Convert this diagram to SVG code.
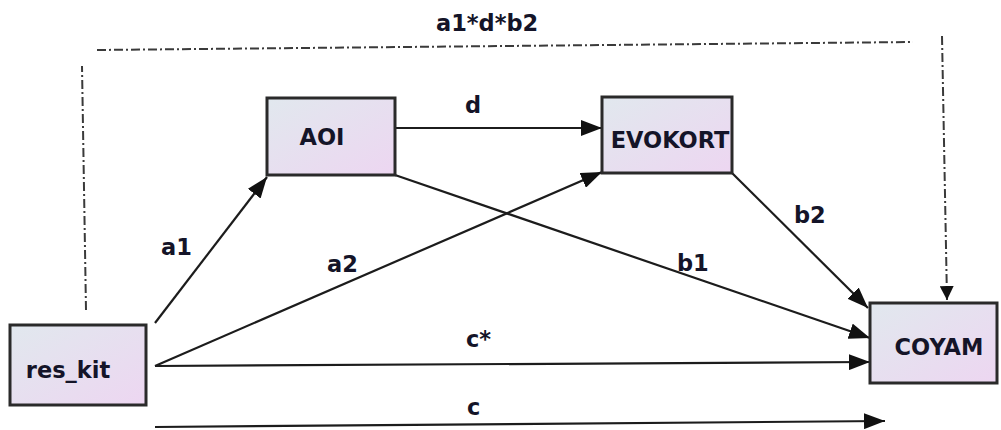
<svg xmlns="http://www.w3.org/2000/svg" width="1001" height="430" viewBox="0 0 1001 430">
  <defs>
    <linearGradient id="boxFill" x1="0" y1="0" x2="1" y2="1">
      <stop offset="0" stop-color="#e1e8ee"/>
      <stop offset="1" stop-color="#edd6f1"/>
    </linearGradient>
    <marker id="arrow" markerUnits="userSpaceOnUse" markerWidth="22" markerHeight="16" refX="21" refY="8" orient="auto">
      <path d="M0,0 L21,8 L0,16 Z" fill="#111"/>
    </marker>
    <marker id="arrowSmall" markerUnits="userSpaceOnUse" markerWidth="16" markerHeight="14" refX="14" refY="7" orient="auto">
      <path d="M0,0 L14,7 L0,14 Z" fill="#111"/>
    </marker>
    <style>
      .box { fill: url(#boxFill); stroke: #2a2a2a; stroke-width: 3; }
      .node-label { font-family: "DejaVu Sans", Verdana, sans-serif; font-weight: bold; font-size: 22.5px; fill: #141428; text-anchor: middle; }
      .edge-label { font-family: "DejaVu Sans", Verdana, sans-serif; font-weight: bold; font-size: 22.5px; fill: #141428; }
      .edge { fill: none; stroke: #1c1c1c; stroke-width: 2.2; marker-end: url(#arrow); }
      .indirect { fill: none; stroke: #3a3a3a; stroke-width: 2; stroke-dasharray: 9 3 2 3; }
    </style>
  </defs>

  <!-- connectors -->
  <g id="connectors">
    <line class="edge" x1="155" y1="323" x2="267" y2="177"/>
    <line class="edge" x1="155" y1="366" x2="602" y2="172"/>
    <line class="edge" x1="155" y1="366" x2="870" y2="362"/>
    <line class="edge" x1="395" y1="128" x2="602" y2="128"/>
    <line class="edge" x1="395" y1="175" x2="870" y2="338"/>
    <line class="edge" x1="732" y1="173" x2="868" y2="308"/>
    <line class="edge" x1="155" y1="427" x2="885" y2="421"/>
    <!-- indirect path a1*d*b2 -->
    <line class="indirect" x1="86" y1="310" x2="82" y2="66"/>
    <line class="indirect" x1="97" y1="50" x2="913" y2="42"/>
    <line class="indirect" x1="942" y1="36" x2="947" y2="300" marker-end="url(#arrowSmall)"/>
  </g>

  <!-- connector labels -->
  <g id="edge-labels">
    <text class="edge-label" x="436" y="31">a1*d*b2</text>
    <text class="edge-label" x="465" y="113">d</text>
    <text class="edge-label" x="161" y="255">a1</text>
    <text class="edge-label" x="327" y="272">a2</text>
    <text class="edge-label" x="677" y="271">b1</text>
    <text class="edge-label" x="794" y="223">b2</text>
    <text class="edge-label" x="466" y="347">c*</text>
    <text class="edge-label" x="467" y="415">c</text>
  </g>

  <g id="node-res_kit">
    <rect class="box" x="10" y="325" width="136" height="80"/>
    <text class="node-label" x="68" y="378">res_kit</text>
  </g>
  <g id="node-AOI">
    <rect class="box" x="267" y="98" width="128" height="77"/>
    <text class="node-label" x="322" y="145">AOI</text>
  </g>
  <g id="node-EVOKORT">
    <rect class="box" x="602" y="97" width="130" height="76"/>
    <text class="node-label" x="670" y="148">EVOKORT</text>
  </g>
  <g id="node-COYAM">
    <rect class="box" x="870" y="303" width="127" height="80"/>
    <text class="node-label" x="939" y="355">COYAM</text>
  </g>
</svg>
